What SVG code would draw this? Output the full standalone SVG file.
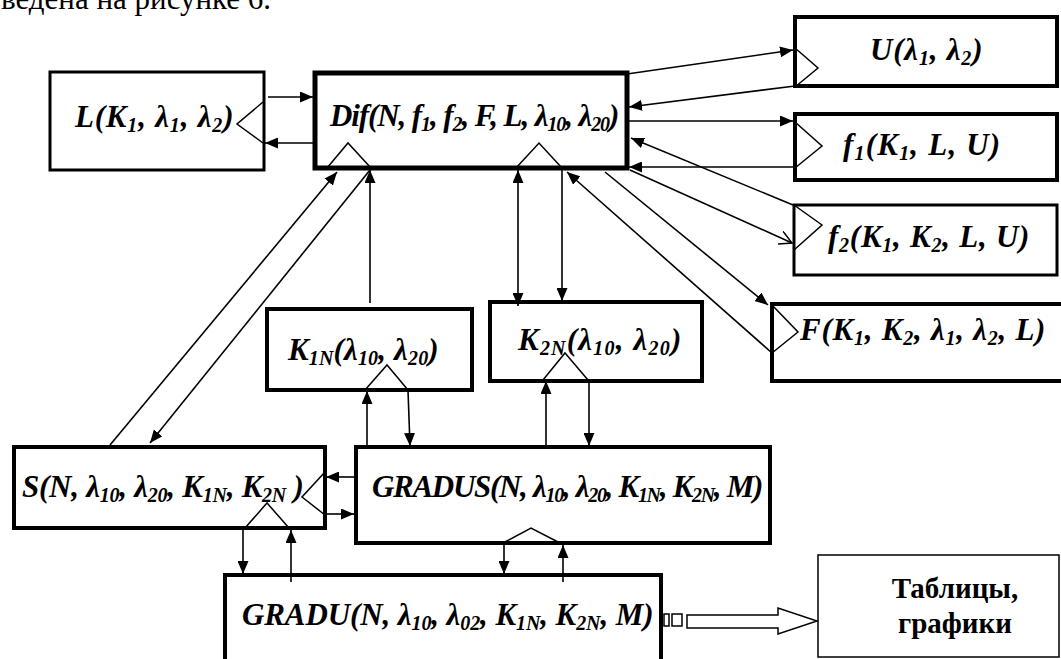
<svg xmlns="http://www.w3.org/2000/svg" width="1061" height="659" viewBox="0 0 1061 659">
<style>
.box{fill:#fff;stroke:#000}
.tri{fill:none;stroke:#000;stroke-width:1.5}
.lbl{font-family:"Liberation Serif","Times New Roman",serif;font-weight:bold;font-style:italic;font-size:31px;fill:#000}
.sub{font-size:20px}
.conn path{fill:none;stroke:#000;stroke-width:1.6}
.plain{font-family:"Liberation Serif","Times New Roman",serif;font-size:31px;fill:#000}
.ru{font-family:"Liberation Serif","Times New Roman",serif;font-weight:bold;font-size:29px;fill:#000}
</style>
<defs>
<marker id="ah" viewBox="0 0 13 11" refX="13" refY="5.5" markerWidth="13" markerHeight="11" markerUnits="userSpaceOnUse" orient="auto-start-reverse"><path d="M0,0 L13,5.5 L0,11z" fill="#000"/></marker>
<marker id="oa" viewBox="0 0 14 14" refX="13" refY="7" markerWidth="14" markerHeight="14" markerUnits="userSpaceOnUse" orient="auto"><path d="M0,0 L13,7 L0,14" fill="none" stroke="#000" stroke-width="1.5"/></marker>
</defs>
<rect width="1061" height="659" fill="#fff"/>
<text class="plain" x="1" y="9">ведена на рисунке 6.</text>

<g id="node-L">
<rect class="box" x="50" y="72" width="214" height="98" stroke-width="3"/>
<polyline class="tri" points="263,102 237,124 263,143"/>
<text class="lbl" x="75" y="127" letter-spacing="0.8">L(K<tspan class="sub" dy="5">1</tspan><tspan dy="-5">, λ</tspan><tspan class="sub" dy="5">1</tspan><tspan dy="-5">, λ</tspan><tspan class="sub" dy="5">2</tspan><tspan dy="-5">)</tspan></text>
</g>

<g id="node-Dif">
<rect class="box" x="315" y="73" width="312" height="95" stroke-width="5"/>
<polyline class="tri" points="327,168 348,143 371,168"/>
<polyline class="tri" points="516,168 539,143 562,168"/>
<text class="lbl" x="330" y="126" letter-spacing="-1.1">Dif(N, f<tspan class="sub" dy="5">1</tspan><tspan dy="-5">, f</tspan><tspan class="sub" dy="5">2</tspan><tspan dy="-5">, F, L, λ</tspan><tspan class="sub" dy="5">10</tspan><tspan dy="-5">, λ</tspan><tspan class="sub" dy="5">20</tspan><tspan dy="-5">)</tspan></text>
</g>

<g id="node-U">
<rect class="box" x="795" y="17" width="262" height="69" stroke-width="4"/>
<polyline class="tri" points="795,48 818,68 795,87"/>
<text class="lbl" x="870" y="60" letter-spacing="0.8">U(λ<tspan class="sub" dy="5">1</tspan><tspan dy="-5">, λ</tspan><tspan class="sub" dy="5">2</tspan><tspan dy="-5">)</tspan></text>
</g>

<g id="node-f1">
<rect class="box" x="795" y="114" width="262" height="66" stroke-width="4"/>
<polyline class="tri" points="795,122 822,146 795,168"/>
<text class="lbl" x="843" y="155" letter-spacing="1.2">f<tspan class="sub" dy="5">1</tspan><tspan dy="-5">(K</tspan><tspan class="sub" dy="5">1</tspan><tspan dy="-5">, L, U)</tspan></text>
</g>

<g id="node-f2">
<rect class="box" x="794" y="205" width="263" height="70" stroke-width="3"/>
<polyline class="tri" points="794,205 822,225 794,250"/>
<text class="lbl" x="828" y="247" letter-spacing="0.75">f<tspan class="sub" dy="5">2</tspan><tspan dy="-5">(K</tspan><tspan class="sub" dy="5">1</tspan><tspan dy="-5">, K</tspan><tspan class="sub" dy="5">2</tspan><tspan dy="-5">, L, U)</tspan></text>
</g>

<g id="node-F">
<rect class="box" x="772" y="304" width="292" height="77" stroke-width="4"/>
<polyline class="tri" points="772,305 798,332 772,353"/>
<text class="lbl" x="800" y="340" letter-spacing="0.75">F(K<tspan class="sub" dy="5">1</tspan><tspan dy="-5">, K</tspan><tspan class="sub" dy="5">2</tspan><tspan dy="-5">, λ</tspan><tspan class="sub" dy="5">1</tspan><tspan dy="-5">, λ</tspan><tspan class="sub" dy="5">2</tspan><tspan dy="-5">, L)</tspan></text>
</g>

<g id="node-K1N">
<rect class="box" x="267" y="309" width="205" height="81" stroke-width="4"/>
<polyline class="tri" points="365,390 387,365 408,390"/>
<text class="lbl" x="288" y="360" letter-spacing="0.15">K<tspan class="sub" dy="5">1N</tspan><tspan dy="-5">(λ</tspan><tspan class="sub" dy="5">10</tspan><tspan dy="-5">, λ</tspan><tspan class="sub" dy="5">20</tspan><tspan dy="-5">)</tspan></text>
</g>

<g id="node-K2N">
<rect class="box" x="490" y="302" width="212" height="79" stroke-width="4"/>
<polyline class="tri" points="543,380 565,353 588,380"/>
<text class="lbl" x="518" y="350" letter-spacing="1.2">K<tspan class="sub" dy="5">2N</tspan><tspan dy="-5">(λ</tspan><tspan class="sub" dy="5">10</tspan><tspan dy="-5">, λ</tspan><tspan class="sub" dy="5">20</tspan><tspan dy="-5">)</tspan></text>
</g>

<g id="node-S">
<rect class="box" x="14" y="447" width="311" height="81" stroke-width="4"/>
<polyline class="tri" points="325,472 302,497 325,515"/>
<polyline class="tri" points="245,528 267,503 289,528"/>
<text class="lbl" x="22" y="497" letter-spacing="-0.25">S(N, λ<tspan class="sub" dy="5">10</tspan><tspan dy="-5">, λ</tspan><tspan class="sub" dy="5">20</tspan><tspan dy="-5">, K</tspan><tspan class="sub" dy="5">1N</tspan><tspan dy="-5">, K</tspan><tspan class="sub" dy="5">2N</tspan><tspan dy="-5"> )</tspan></text>
</g>

<g id="node-GRADUS">
<rect class="box" x="356" y="447" width="414" height="96" stroke-width="4"/>
<polyline class="tri" points="503,543 531,528 560,543"/>
<text class="lbl" x="372" y="497" letter-spacing="-1.3">GRADUS(N, λ<tspan class="sub" dy="5">10</tspan><tspan dy="-5">, λ</tspan><tspan class="sub" dy="5">20</tspan><tspan dy="-5">, K</tspan><tspan class="sub" dy="5">1N</tspan><tspan dy="-5">, K</tspan><tspan class="sub" dy="5">2N</tspan><tspan dy="-5">, M)</tspan></text>
</g>

<g id="node-GRADU">
<rect class="box" x="225" y="575" width="436" height="100" stroke-width="4"/>
<text class="lbl" x="242" y="625" letter-spacing="-0.1">GRADU(N, λ<tspan class="sub" dy="5">10</tspan><tspan dy="-5">, λ</tspan><tspan class="sub" dy="5">02</tspan><tspan dy="-5">, K</tspan><tspan class="sub" dy="5">1N</tspan><tspan dy="-5">, K</tspan><tspan class="sub" dy="5">2N</tspan><tspan dy="-5">, M)</tspan></text>
</g>

<g id="node-tables">
<rect class="box" x="818" y="555" width="241" height="102" stroke-width="1.5"/>
<text class="ru" x="955" y="598" text-anchor="middle">Таблицы,</text>
<text class="ru" x="955" y="633" text-anchor="middle">графики</text>
</g>

<g id="connectors" class="conn">
<path d="M268,97 H313" marker-end="url(#ah)"/>
<path d="M313,143 H265" marker-end="url(#ah)"/>
<path d="M627,74 L793,50" marker-end="url(#ah)"/>
<path d="M795,86 L629,107" marker-end="url(#ah)"/>
<path d="M627,121 H793" marker-end="url(#ah)"/>
<path d="M795,167 H629" marker-end="url(#ah)"/>
<path d="M793,205 L631,138" marker-end="url(#ah)"/>
<path d="M630,170 L792,243" marker-end="url(#oa)"/>
<path d="M605,172 L768,305" marker-end="url(#ah)"/>
<path d="M772,353 L567,172" marker-end="url(#ah)"/>
<path d="M518,170 V306" marker-start="url(#ah)" marker-end="url(#ah)"/>
<path d="M562,170 V301" marker-end="url(#ah)"/>
<path d="M370,303 V170" marker-end="url(#ah)"/>
<path d="M110,445 L337,172" marker-end="url(#ah)"/>
<path d="M370,170 L150,443" marker-end="url(#ah)"/>
<path d="M367,447 V391" marker-end="url(#ah)"/>
<path d="M408,390 L410,446" marker-end="url(#ah)"/>
<path d="M546,447 V381" marker-end="url(#ah)"/>
<path d="M589,380 V446" marker-end="url(#ah)"/>
<path d="M355,477 H326" marker-end="url(#ah)"/>
<path d="M327,514 H354" marker-end="url(#ah)"/>
<path d="M243,528 V574" marker-end="url(#ah)"/>
<path d="M291,582 V530" marker-end="url(#ah)"/>
<path d="M504,543 V574" marker-end="url(#ah)"/>
<path d="M563,582 V545" marker-end="url(#ah)"/>
<rect x="664" y="614" width="5" height="12" fill="#fff" stroke="#000" stroke-width="1.5"/>
<rect x="672" y="614" width="10" height="12" fill="#fff" stroke="#000" stroke-width="1.5"/>
<polygon points="687,615 778,615 778,608 817,621 778,634 778,628 687,628" fill="#fff" stroke="#000" stroke-width="1.5"/>
</g>
</svg>
